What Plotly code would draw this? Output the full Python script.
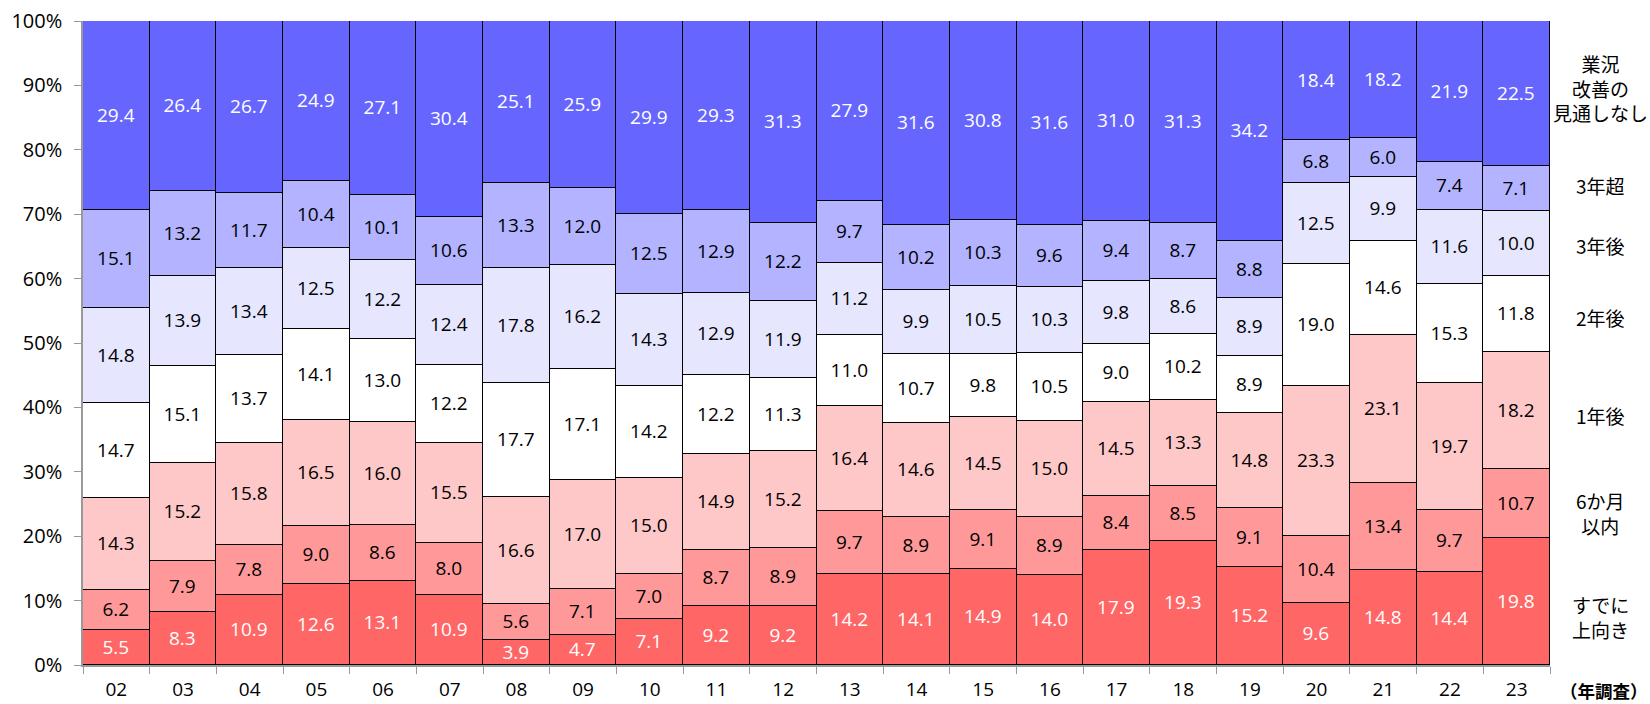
import plotly.graph_objects as go

years = ["02","03","04","05","06","07","08","09","10","11","12","13","14","15","16","17","18","19","20","21","22","23"]

s_up = [5.5, 8.3, 10.9, 12.6, 13.1, 10.9, 3.9, 4.7, 7.1, 9.2, 9.2, 14.2, 14.1, 14.9, 14.0, 17.9, 19.3, 15.2, 9.6, 14.8, 14.4, 19.8]
s_6m = [6.2, 7.9, 7.8, 9.0, 8.6, 8.0, 5.6, 7.1, 7.0, 8.7, 8.9, 9.7, 8.9, 9.1, 8.9, 8.4, 8.5, 9.1, 10.4, 13.4, 9.7, 10.7]
s_1y = [14.3, 15.2, 15.8, 16.5, 16.0, 15.5, 16.6, 17.0, 15.0, 14.9, 15.2, 16.4, 14.6, 14.5, 15.0, 14.5, 13.3, 14.8, 23.3, 23.1, 19.7, 18.2]
s_2y = [14.7, 15.1, 13.7, 14.1, 13.0, 12.2, 17.7, 17.1, 14.2, 12.2, 11.3, 11.0, 10.7, 9.8, 10.5, 9.0, 10.2, 8.9, 19.0, 14.6, 15.3, 11.8]
s_3y = [14.8, 13.9, 13.4, 12.5, 12.2, 12.4, 17.8, 16.2, 14.3, 12.9, 11.9, 11.2, 9.9, 10.5, 10.3, 9.8, 8.6, 8.9, 12.5, 9.9, 11.6, 10.0]
s_3yp = [15.1, 13.2, 11.7, 10.4, 10.1, 10.6, 13.3, 12.0, 12.5, 12.9, 12.2, 9.7, 10.2, 10.3, 9.6, 9.4, 8.7, 8.8, 6.8, 6.0, 7.4, 7.1]
s_none = [29.4, 26.4, 26.7, 24.9, 27.1, 30.4, 25.1, 25.9, 29.9, 29.3, 31.3, 27.9, 31.6, 30.8, 31.6, 31.0, 31.3, 34.2, 18.4, 18.2, 21.9, 22.5]

series_names = ["すでに<br>上向き", "6か月<br>以内", "1年後", "2年後", "3年後", "3年超", "業況<br>改善の<br>見通しなし"]
series_values = [s_up, s_6m, s_1y, s_2y, s_3y, s_3yp, s_none]
colors = ["#FF6666", "#FF9999", "#FFC8C8", "#FFFFFF", "#E6E6FF", "#B3B3FF", "#6666FF"]
text_colors = ["white", "black", "black", "black", "black", "black", "white"]
label_y = [7.5, 23.6, 38.8, 53.9, 65.2, 74.5, 89.6]

NUMFONT = "Open Sans"
JPFONT = "Noto Sans CJK JP"

fig = go.Figure()
for name, vals, c, tc in zip(series_names, series_values, colors, text_colors):
    fig.add_trace(go.Bar(
        x=years, y=vals, name=name,
        marker=dict(color=c, line=dict(color="black", width=1.3)),
        text=[f"{v:.1f}" for v in vals],
        textposition="inside", insidetextanchor="middle",
        textfont=dict(color=tc, size=19, family=NUMFONT),
        textangle=0,
        showlegend=False,
    ))

for name, y in zip(series_names, label_y):
    fig.add_annotation(x=1.0345, xref="paper", y=y, yref="y", text=name,
                       showarrow=False, xanchor="center", yanchor="middle",
                       font=dict(size=19, family=JPFONT, color="black"), align="center")

fig.add_annotation(x=1.0365, xref="paper", y=-0.039, yref="paper", text="<b>（年調査）</b>",
                   showarrow=False, xanchor="center", yanchor="middle",
                   font=dict(size=17.5, family=JPFONT, color="black"))

fig.update_layout(
    width=1650, height=704,
    barmode="stack", barnorm="percent", bargap=0,
    margin=dict(l=83, r=100, t=21, b=39),
    plot_bgcolor="white", paper_bgcolor="white",
    uniformtext=dict(mode="show", minsize=19),
    font=dict(family=NUMFONT, size=19, color="black"),
)
fig.update_yaxes(range=[0, 100], dtick=10, ticksuffix="%", showgrid=False,
                 showline=True, linecolor="#999999", linewidth=1.5,
                 ticks="outside", ticklen=7, tickcolor="#999999", automargin=False,
                 tickfont=dict(size=20, family=NUMFONT), ticklabelstandoff=8)
fig.update_xaxes(showline=True, linecolor="#999999", linewidth=1.5,
                 ticks="outside", ticklen=7, tickcolor="#999999", tickson="boundaries",
                 automargin=False,
                 tickfont=dict(size=19, family=NUMFONT), ticklabelstandoff=6)

fig.write_html("out.html", config={"displayModeBar": False},
               post_script="document.body.style.margin='0';document.body.style.overflow='hidden';")
